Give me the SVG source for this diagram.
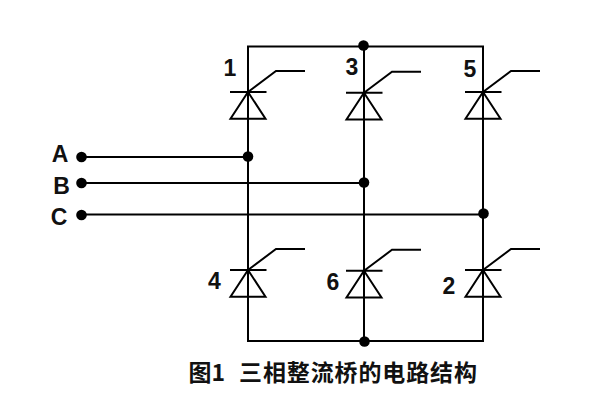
<svg xmlns="http://www.w3.org/2000/svg" width="600" height="400" viewBox="0 0 600 400">
<style>
.w{fill:none;stroke:#000;stroke-width:2;stroke-linejoin:miter}
.d{fill:#000;stroke:none}
.t{font-family:"Liberation Sans",Arial,sans-serif;font-weight:700;font-size:23px;fill:#111;text-anchor:middle}
.c{font-family:"Noto Sans CJK SC","Liberation Sans",sans-serif;font-weight:700;font-size:23px;fill:#111}
</style>
<defs>
<g id="thy">
<path class="w" d="M-18 0H18.500M0 0L-17.500 26.700H17.500ZM0 0L28 -21H57"/>
</g>
</defs>
<rect width="600" height="400" fill="#fff"/>
<g id="connectors">
<path class="w" d="M248 157V46.500H483V341H248V157"/>
<path class="w" d="M364 46.500V341"/>
<path class="w" d="M81 157H248M81 183H364M81 214.500H483"/>
</g>
<g id="thyristor-1"><use href="#thy" x="248" y="92"/><text class="t" x="230" y="76">1</text></g>
<g id="thyristor-3"><use href="#thy" x="364" y="92.800"/><text class="t" x="352" y="75">3</text></g>
<g id="thyristor-5"><use href="#thy" x="483" y="92"/><text class="t" x="470" y="76.500">5</text></g>
<g id="thyristor-4"><use href="#thy" x="248" y="270"/><text class="t" x="214.500" y="289">4</text></g>
<g id="thyristor-6"><use href="#thy" x="364" y="270.800"/><text class="t" x="333" y="290">6</text></g>
<g id="thyristor-2"><use href="#thy" x="483" y="270"/><text class="t" x="449" y="294">2</text></g>
<g id="terminal-A"><circle class="d" cx="81.500" cy="157" r="5.300"/><text class="t" x="60" y="162">A</text></g>
<g id="terminal-B"><circle class="d" cx="81.500" cy="183" r="5.300"/><text class="t" x="61.500" y="193.500">B</text></g>
<g id="terminal-C"><circle class="d" cx="81.500" cy="215" r="5.300"/><text class="t" x="59" y="224.500">C</text></g>
<g id="junctions">
<circle class="d" cx="248" cy="156.500" r="5.300"/>
<circle class="d" cx="364" cy="182.500" r="5.300"/>
<circle class="d" cx="483.500" cy="213.500" r="5.300"/>
<circle class="d" cx="363.500" cy="45.500" r="5.300"/>
<circle class="d" cx="364.500" cy="341.500" r="5.300"/>
</g>
<g id="caption"><text class="c" x="188.500" y="381">图1</text><text class="c" x="239" y="381" textLength="238">三相整流桥的电路结构</text></g>
</svg>
